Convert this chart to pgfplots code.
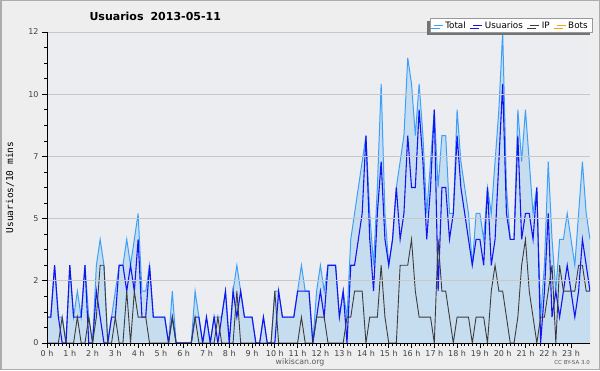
\documentclass[border=0pt]{standalone}
\usepackage{fontspec}
\setmainfont{DejaVu Sans}
\newfontfamily\monofont{DejaVu Sans Mono}
\usepackage{pgfplots}
\pgfplotsset{compat=1.18}
\usepackage{pgfplotstable}
\usetikzlibrary{shadows}

\definecolor{bgc}{RGB}{238,238,238}
\definecolor{plotbg}{RGB}{236,237,240}
\definecolor{totc}{RGB}{60,160,250}
\definecolor{fillc}{RGB}{198,221,240}
\definecolor{usrc}{RGB}{20,20,240}
\definecolor{ipc}{RGB}{60,60,60}
\definecolor{botc}{RGB}{255,160,20}
\definecolor{gridc}{RGB}{200,200,200}

\pgfplotstableread{
i u ip t b
0 1 0 1 0
1 1 0 1 0
2 3 0 3 0
3 1 0 1 0
4 0 1 1 0
5 0 0 0 0
6 3 0 3 0
7 1 0 1 0
8 1 1 2 0
9 1 0 1 0
10 3 0 3 0
11 0 1 1 0
12 0 0 0 0
13 2 1 3 0
14 1 3 4 0
15 0 3 3 0
16 0 0 0 0
17 1 0 1 0
18 1 1 2 0
19 3 0 3 0
20 3 0 3 0
21 2 2 4 0
22 3 0 3 0
23 2 2 4 0
24 4 1 5 0
25 1 1 2 0
26 1 1 2 0
27 3 0 3 0
28 1 0 1 0
29 1 0 1 0
30 1 0 1 0
31 1 0 1 0
32 0 0 0 0
33 1 1 2 0
34 0 0 0 0
35 0 0 0 0
36 0 0 0 0
37 0 0 0 0
38 0 0 0 0
39 1 1 2 0
40 1 0 1 0
41 0 0 0 0
42 1 0 1 0
43 0 0 0 0
44 1 0 1 0
45 0 1 1 0
46 1 0 1 0
47 2 0 2 0
48 0 0 0 0
49 2 0 2 0
50 1 2 3 0
51 2 0 2 0
52 1 0 1 0
53 1 0 1 0
54 1 0 1 0
55 0 0 0 0
56 0 0 0 0
57 1 0 1 0
58 0 0 0 0
59 0 0 0 0
60 0 2 2 0
61 2 0 2 0
62 1 0 1 0
63 1 0 1 0
64 1 0 1 0
65 1 0 1 0
66 2 0 2 0
67 2 1 3 0
68 2 0 2 0
69 2 0 2 0
70 0 0 0 0
71 1 1 2 0
72 2 1 3 0
73 1 1 2 0
74 3 0 3 0
75 3 0 3 0
76 3 0 3 0
77 1 0 1 0
78 2 0 2 0
79 0 1 1 0
80 3 1 4 0
81 3 2 5 0
82 4 2 6 0
83 5 2 7 0
84 8 0 8 0
85 4 1 5 0
86 2 1 3 0
87 5 1 6 0
88 7 3 10 0
89 4 1 5 0
90 3 0 3 0
91 4 0 4 0
92 6 0 6 0
93 4 3 7 0
94 5 3 8 0
95 8 3 11 0
96 6 4 10 0
97 6 2 8 0
98 9 1 10 0
99 7 1 8 0
100 4 1 5 0
101 6 1 7 0
102 9 0 9 0
103 2 4 6 0
104 6 2 8 0
105 6 2 8 0
106 4 1 5 0
107 5 0 5 0
108 8 1 9 0
109 6 1 7 0
110 5 1 6 0
111 4 1 5 0
112 3 0 3 0
113 4 1 5 0
114 4 1 5 0
115 3 1 4 0
116 6 0 6 0
117 3 2 5 0
118 4 3 7 0
119 7 2 9 0
120 10 2 12 0
121 5 1 6 0
122 4 0 4 0
123 4 0 4 0
124 8 1 9 0
125 4 3 7 0
126 5 4 9 0
127 5 2 7 0
128 4 1 5 0
129 6 0 6 0
130 0 1 1 0
131 2 1 3 0
132 5 2 7 0
133 1 3 4 0
134 2 0 2 0
135 1 3 4 0
136 2 2 4 0
137 3 2 5 0
138 2 2 4 0
139 1 2 3 0
140 2 3 5 0
141 4 3 7 0
142 3 2 5 0
143 2 2 4 0
}\datatable

\begin{document}
\begin{tikzpicture}[x=1pt,y=1pt]
\useasboundingbox (0,0) rectangle (600,370);
\fill[bgc] (0,0) rectangle (600,370);
\draw[gray!65, line width=1.5pt] (0.75,0.75) rectangle (599.25,369.25);
\node[anchor=base west, font=\bfseries\fontsize{11}{12}\selectfont] at (86,349) {Usuarios\hspace{7pt}2013-05-11};
\node[anchor=base, font=\fontsize{7.8}{9}\selectfont, text=black!65] at (300,6) {wikiscan.org};
\node[anchor=base east, font=\fontsize{5.5}{6}\selectfont, text=black!65, inner sep=0pt] at (590,6) {CC BY-SA 3.0};
\begin{axis}[
  at={(47pt,27pt)}, anchor=south west,
  scale only axis, width=543pt, height=311pt,
  xmin=0, xmax=143, ymin=0, ymax=12,
  axis background/.style={fill=plotbg},
  axis on top,
  axis x line*=bottom, axis y line*=left,
  axis line style={black, line width=1pt},
  ytick={0,2.4,4.8,7.2,9.6,12},
  yticklabels={0,2,5,7,10,12},
  minor y tick num=3,
  xtick={0,6,...,138},
  xticklabels={0 h,1 h,2 h,3 h,4 h,5 h,6 h,7 h,8 h,9 h,10 h,11 h,12 h,13 h,14 h,15 h,16 h,17 h,18 h,19 h,20 h,21 h,22 h,23 h},
  minor x tick num=5,
  ymajorgrids,
  major grid style={gridc, line width=0.8pt},
  tick align=outside,
  major tick length=5pt, minor tick length=3pt,
  tick style={black, line width=0.7pt},
  ticklabel style={font=\fontsize{8}{9}\selectfont, text=black!75},
  xticklabel style={yshift=1pt},
  ylabel={Usuarios/10 mins},
  every axis y label/.style={at={(axis description cs:0,0.5)}, xshift=-37pt, rotate=90, anchor=center, font=\monofont\fontsize{9.5}{10}\selectfont},
  legend columns=4,
  legend image code/.code={\draw[#1] (0pt,0pt) -- (9pt,0pt);},
  legend style={at={(axis description cs:1,1)}, anchor=south east, xshift=3pt, yshift=-1pt,
    draw=gray!80, fill=white, line width=0.6pt, font=\fontsize{8.8}{10}\selectfont,
    inner xsep=3pt, inner ysep=1pt,
    /tikz/every even column/.append style={column sep=5pt},
    drop shadow={shadow xshift=-3pt, shadow yshift=-2.5pt, fill=black!55, opacity=1}},
]
\addplot[fill=fillc, draw=none, forget plot] table[x=i, y=t] {\datatable} \closedcycle;
\addplot[totc, line width=1pt] table[x=i, y=t] {\datatable};
\addlegendentry{Total}
\addplot[usrc, line width=1.1pt] table[x=i, y=u] {\datatable};
\addlegendentry{Usuarios}
\addplot[ipc, line width=0.9pt] table[x=i, y=ip] {\datatable};
\addlegendentry{IP}
\addplot[botc, line width=0.5pt] table[x=i, y=b] {\datatable};
\addlegendentry{Bots}
\end{axis}
\end{tikzpicture}
\end{document}
